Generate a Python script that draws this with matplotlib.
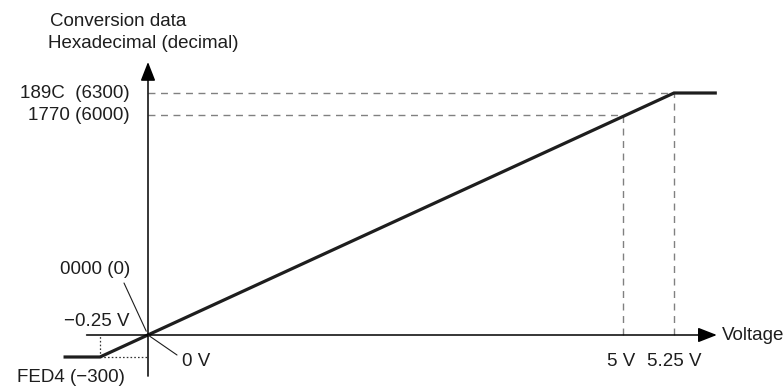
import numpy as np
import matplotlib
matplotlib.use("Agg")
import matplotlib.pyplot as plt

plt.rcParams['font.family'] = ['Liberation Sans', 'DejaVu Sans']

# ---- data (schematic conversion characteristic) ----
volt_knots = [-0.25, 0.0, 5.0, 5.25]          # voltage breakpoints (V)
conv_knots = [-300, 0, 6000, 6300]            # conversion data breakpoints (decimal)
line_volts = [-0.44, -0.25, 5.25, 5.46]       # plotted characteristic, x (V)
line_conv = [-300, -300, 6300, 6300]          # plotted characteristic, y (decimal)
x_tick_labels = ["\u22120.25 V", "0 V", "5 V", "5.25 V"]
y_tick_labels = ["FED4 (\u2212300)", "0000 (0)", "1770 (6000)", "189C  (6300)"]
x_title = "Voltage"
y_title = ["Conversion data", "Hexadecimal (decimal)"]

# ---- schematic (non-proportional) axis scales ----
x_pix = [100, 148, 623, 674]
y_pix = [30, 52, 272, 294]


def make_pw(xk, yk):
    xk = np.asarray(xk, float)
    yk = np.asarray(yk, float)
    s0 = (yk[1] - yk[0]) / (xk[1] - xk[0])
    s1 = (yk[-1] - yk[-2]) / (xk[-1] - xk[-2])

    def f(x):
        x = np.asarray(x, float)
        y = np.interp(x, xk, yk)
        y = np.where(x < xk[0], yk[0] + (x - xk[0]) * s0, y)
        y = np.where(x > xk[-1], yk[-1] + (x - xk[-1]) * s1, y)
        return y
    return f


fx, fx_inv = make_pw(volt_knots, x_pix), make_pw(x_pix, volt_knots)
fy, fy_inv = make_pw(conv_knots, y_pix), make_pw(y_pix, conv_knots)

W, H = 784, 387
fig = plt.figure(figsize=(W / 100, H / 100), dpi=100)
ax = fig.add_axes([0, 0, 1, 1])
ax.set_xscale('function', functions=(fx, fx_inv))
ax.set_yscale('function', functions=(fy, fy_inv))
ax.set_xlim(float(fx_inv(0)), float(fx_inv(W)))
ax.set_ylim(float(fy_inv(0)), float(fy_inv(H)))
ax.axis('off')

ink = '#1e1e1e'
fs = 13.5

# axes with arrows
x_axis_start, x_axis_end = -0.32, 5.46
y_axis_start, y_axis_end = -561, 6723
arrow = dict(arrowstyle='-|>,head_length=1.15,head_width=0.45', mutation_scale=10,
             lw=1.1, color='black', shrinkA=0, shrinkB=0)
ax.annotate('', xy=(x_axis_end, 0), xytext=(x_axis_start, 0), arrowprops=arrow)
ax.annotate('', xy=(0, y_axis_end), xytext=(0, y_axis_start), arrowprops=arrow)

# dashed guide lines
dkw = dict(color='#808080', lw=1.0, dashes=(5, 4))
ax.plot([0, volt_knots[3]], [conv_knots[3], conv_knots[3]], **dkw)
ax.plot([0, volt_knots[2]], [conv_knots[2], conv_knots[2]], **dkw)
ax.plot([volt_knots[2], volt_knots[2]], [0, conv_knots[2]], **dkw)
ax.plot([volt_knots[3], volt_knots[3]], [0, conv_knots[3]], **dkw)

# dotted guide lines
okw = dict(color='#333333', lw=0.9, dashes=(1.3, 1.7))
ax.plot([volt_knots[0], volt_knots[0]], [conv_knots[0], 0], **okw)
ax.plot([volt_knots[0], 0], [conv_knots[0], conv_knots[0]], **okw)

# characteristic line
ax.plot(line_volts, line_conv, color=ink, lw=2.3, solid_capstyle='butt', solid_joinstyle='miter')

# labels
tk = dict(fontsize=fs, color=ink, textcoords='offset pixels')
ax.annotate(y_tick_labels[3], xy=(0, conv_knots[3]), xytext=(-18, 0), ha='right', va='center', **tk)
ax.annotate(y_tick_labels[2], xy=(0, conv_knots[2]), xytext=(-18, 0), ha='right', va='center', **tk)
ax.annotate(y_tick_labels[1], xy=(0, 0), xytext=(-18, 65), ha='right', va='center', **tk)
ax.annotate(y_tick_labels[0], xy=(0, conv_knots[0]), xytext=(-131, -20), ha='left', va='center', **tk)
ax.annotate(x_tick_labels[0], xy=(0, 0), xytext=(-18, 13), ha='right', va='center', **tk)
ax.annotate(x_tick_labels[1], xy=(0, 0), xytext=(34, -27), ha='left', va='center', **tk)
ax.annotate(x_tick_labels[2], xy=(volt_knots[2], 0), xytext=(-2, -27), ha='center', va='center', **tk)
ax.annotate(x_tick_labels[3], xy=(volt_knots[3], 0), xytext=(0, -27), ha='center', va='center', **tk)
ax.annotate(x_title, xy=(x_axis_end, 0), xytext=(5, 0), ha='left', va='center', **tk)
ax.annotate(y_title[0], xy=(0, y_axis_end), xytext=(-98, 40), ha='left', va='center', **tk)
ax.annotate(y_title[1], xy=(0, y_axis_end), xytext=(-100, 18), ha='left', va='center', **tk)

# leader lines
lkw = dict(arrowstyle='-', lw=0.8, color=ink, shrinkA=0, shrinkB=0)
ax.annotate('', xy=(0, 0), xytext=(-24, 52), textcoords='offset pixels',
            arrowprops=dict(lkw, shrinkB=3))
ax.annotate('', xy=(0, 0), xytext=(29, -20), textcoords='offset pixels', arrowprops=lkw)

fig.savefig('out.png', dpi=100)
